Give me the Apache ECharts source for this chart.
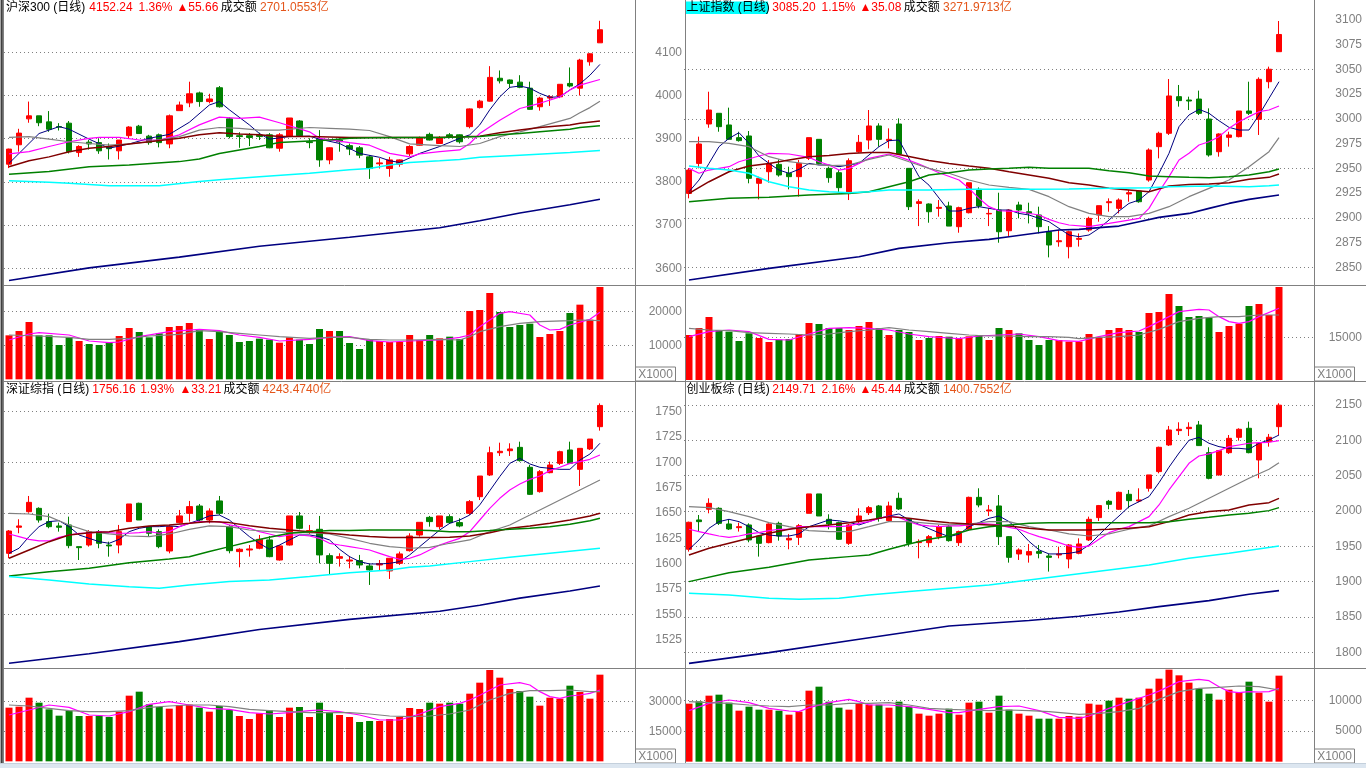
<!DOCTYPE html>
<html><head><meta charset="utf-8">
<script src="https://cdn.jsdelivr.net/npm/echarts/dist/echarts.min.js"></script>
<style>html,body{margin:0;padding:0;background:#fff;overflow:hidden}#c{width:1366px;height:768px}</style>
</head><body><div id="c"></div>
<script>
// 60 trading days + 3 empty slots on the right of every panel
const slots = Array.from({length: 63}, (_, i) => 'D' + (i + 1));

// ================= 沪深300 =================
const tlHeader = ['沪深300 (日线)', '4152.24', '1.36%', '▲55.66', '成交额', '2701.0553亿'];
// [open, close, low, high]
const tlCandles = [
[3841,3876,3832,3877],[3886,3913,3870,3923],[3946,3953,3937,3986],[3953,3937,3929,3953],[3939,3922,3916,3964],
[3928,3927,3919,3936],[3936,3870,3866,3941],[3868,3882,3858,3885],[3892,3888,3875,3897],[3891,3872,3865,3901],
[3882,3877,3852,3889],[3872,3897,3852,3897],[3907,3927,3901,3929],[3929,3912,3911,3932],[3906,3891,3886,3909],
[3909,3891,3880,3912],[3888,3953,3878,3956],[3965,3978,3965,3986],[3983,4004,3973,4032],[4006,3986,3974,4009],
[3986,3992,3982,4004],[4018,3974,3972,4022],[3946,3905,3901,3950],[3907,3905,3879,3915],[3907,3903,3883,3913],
[3908,3905,3897,3914],[3909,3879,3878,3913],[3878,3909,3870,3913],[3906,3948,3905,3948],[3941,3907,3905,3943],
[3893,3891,3878,3901],[3899,3851,3835,3920],[3851,3879,3841,3880],[3897,3893,3870,3901],[3884,3876,3862,3889],
[3879,3862,3855,3883],[3858,3831,3807,3862],[3842,3844,3831,3855],[3831,3851,3812,3858],[3841,3851,3835,3852],
[3865,3882,3860,3885],[3885,3902,3884,3905],[3910,3897,3896,3914],[3889,3903,3888,3906],[3909,3905,3901,3913],
[3909,3893,3889,3910],[3928,3969,3924,3970],[3972,3987,3970,3990],[3987,4042,3986,4068],[4040,4034,4028,4058],
[4036,4028,4017,4037],[4031,4019,4017,4047],[4017,3968,3967,4032],[3974,3994,3965,3997],[3994,3997,3976,4001],
[3997,4026,3994,4026],[4028,4022,4019,4065],[4017,4082,4000,4085],[4078,4096.6,4069,4098],[4122,4152.24,4122,4173]];
const tlVol = [12941,14216,16863,12941,12941,10098,12353,11275,10392,10098,10784,12745,15098,13922,12353,13529,15392,15686,16569,14510,
11863,13922,13039,10980,11275,11961,11667,10784,12353,11667,10392,14804,14216,14216,10686,8922,11667,11275,10980,10980,
13039,11569,13039,12059,12549,11863,20098,20392,25392,19804,15392,15980,16373,12451,13333,14216,19510,21961,17549,27157];
// moving averages as [dayIndex, value]
const tlMA5 = [[0,3843],[2,3889],[3,3912],[5,3928],[6,3922],[8,3899],[10,3878],[12,3888],[14,3901],[16,3910],[18,3938],[20,3978],[21,3986],[22,3967],[24,3932],[25,3912],[26,3899],[28,3905],[30,3906],[31,3899],[33,3889],[35,3866],[37,3857],[38,3849],[39,3845],[41,3866],[43,3882],[45,3901],[46,3909],[47,3932],[48,3967],[49,3997],[50,4019],[51,4022],[52,4017],[53,4005],[54,3996],[55,3997],[56,4013],[57,4027],[58,4047],[59,4072]];
const tlMA10 = [[0,3865],[2,3870],[4,3882],[6,3893],[8,3901],[9,3903],[11,3903],[13,3897],[15,3897],[17,3909],[19,3932],[21,3950],[23,3947],[25,3950],[27,3937],[30,3916],[31,3901],[34,3891],[36,3885],[38,3866],[40,3858],[41,3865],[43,3870],[45,3874],[46,3889],[47,3912],[49,3943],[51,3970],[53,3982],[55,3997],[56,4013],[57,4024],[59,4037]];
const tlMA20 = [[0,3903],[2,3905],[4,3899],[6,3893],[8,3889],[10,3885],[12,3888],[14,3893],[17,3905],[19,3920],[21,3926],[23,3924],[25,3920],[27,3920],[30,3926],[32,3924],[34,3922],[36,3919],[38,3905],[40,3888],[43,3884],[45,3882],[47,3889],[49,3905],[51,3916],[53,3928],[56,3947],[57,3960],[58,3972],[59,3987]];
const tlMA30 = [[0,3835],[2,3849],[4,3858],[6,3870],[8,3878],[10,3882],[12,3888],[14,3893],[17,3901],[19,3909],[21,3914],[23,3911],[25,3909],[27,3905],[30,3905],[34,3903],[39,3903],[43,3903],[47,3906],[49,3914],[51,3920],[53,3926],[56,3932],[57,3936],[59,3941]];
const tlMA60 = [[0,3818],[4,3824],[8,3835],[12,3839],[17,3847],[19,3853],[21,3866],[23,3874],[25,3882],[27,3891],[30,3895],[32,3897],[34,3901],[36,3902],[39,3903],[43,3903],[47,3905],[49,3909],[51,3912],[53,3916],[56,3922],[57,3926],[59,3930]];
const tlMA120 = [[0,3803],[4,3799],[6,3797],[10,3791],[15,3791],[19,3801],[21,3805],[25,3812],[30,3820],[34,3828],[36,3831],[38,3839],[40,3845],[43,3849],[45,3852],[47,3857],[51,3862],[56,3868],[59,3873]];
const tlMA250 = [[0,3572],[8,3601],[17,3626],[25,3651],[34,3672],[43,3694],[47,3710],[51,3728],[56,3747],[59,3760]];
const tlVMA5 = [[0,11569],[2,13333],[3,13725],[6,13039],[8,11275],[10,10784],[11,10980],[13,12549],[16,14020],[19,14706],[21,14314],[23,13039],[25,12353],[27,11275],[30,11765],[32,12353],[34,12549],[36,11373],[38,10980],[40,11275],[43,11569],[45,12353],[46,13039],[47,15490],[49,19412],[50,19902],[52,18922],[53,15980],[54,14510],[55,14706],[56,15980],[58,17647],[59,19706]];
const tlVMA10 = [[0,13039],[3,12745],[6,12353],[8,11765],[10,11765],[12,12059],[14,12745],[17,13235],[19,14314],[21,14020],[23,13529],[25,13039],[27,12549],[30,12059],[32,12353],[34,12353],[36,11765],[38,11569],[40,11569],[43,11765],[45,11569],[46,12549],[47,14020],[49,15490],[51,16471],[53,16961],[56,17255],[57,17451],[59,17255]];

// ================= 上证指数 =================
const trHeader = ['上证指数 (日线)', '3085.20', '1.15%', '▲35.08', '成交额', '3271.9713亿'];
const trCandles = [
[2924.7,2948.3,2919.7,2950],[2955,2974.6,2950,2982],[2994.8,3008.9,2991,3027.4],[3005.6,2992.1,2987,3005.6],[2993.8,2979.3,2979,3011.3],
[2981,2978,2977,2987],[2982.7,2939.9,2934.9,2987.7],[2934.9,2939.9,2918.7,2941.6],[2946.6,2955,2935.5,2958.4],[2954,2943.3,2941.6,2959],
[2945,2941.6,2928.8,2951.7],[2941.6,2955,2921.4,2958.4],[2960.1,2981,2958.4,2981],[2979.3,2955,2953.4,2979.3],[2950,2940.6,2935.5,2951.7],
[2945.6,2930.5,2925.4,2948.3],[2924.7,2957.7,2918,2960.1],[2966.8,2976.3,2965.8,2983.7],[2978.6,2992.8,2969.2,3008.9],[2992.8,2979.3,2971.9,2995.5],
[2978,2979.3,2970.2,2990.4],[2994.8,2964.5,2963.5,3000.5],[2950,2911.3,2907.9,2950],[2914.6,2916.3,2891.7,2918.7],[2914,2906.2,2895.1,2914.6],
[2909.6,2910.6,2901.2,2918],[2912,2891.7,2891.7,2916.3],[2891.1,2910.3,2885,2911.3],[2905.2,2935.5,2904.5,2935.5],[2928.8,2912,2909.6,2930.8],
[2904,2904.5,2891.7,2909.6],[2907.9,2886,2874.9,2925.4],[2887,2907.9,2881.7,2908.6],[2913,2907.9,2899.5,2916.3],[2906.2,2904.5,2894.4,2915.3],
[2902.9,2891.1,2884.3,2911.3],[2886,2872.6,2860.1,2891.7],[2875.9,2876.9,2870.9,2887.7],[2870.9,2886,2859.1,2887],[2878.3,2879.3,2871,2884.3],
[2887.7,2899.5,2886,2901.2],[2902.9,2912.3,2896.1,2912.3],[2915.3,2916.3,2906.2,2919.7],[2909.6,2918,2904.5,2919.7],[2924.1,2925.4,2916.3,2928.1],
[2927.1,2916.3,2915.3,2927.4],[2938.2,2968.5,2936.5,2970.2],[2971.9,2985.4,2960.1,2987],[2985.4,3023.1,2983.7,3040.2],[3022.4,3018.4,3012.3,3034.2],
[3019,3018,3008.9,3022.4],[3020,3005.6,3003.9,3028.5],[2999.8,2963.5,2961.8,3010.6],[2966.8,2984.7,2961.8,2985.4],[2981.3,2983.7,2971.9,2987],
[2982,3007.9,2981.3,3007.9],[3007.9,3005.6,3003.9,3037.5],[2999.5,3039.9,2983.7,3041.9],[3037.5,3050.1,3030.8,3052.7],[3067.8,3085.2,3067.8,3098.8]];
const trVol = [15820,18281,22150,17578,16992,13711,16406,14766,13359,14180,14414,16172,20039,19688,18281,18281,17578,18984,20391,18281,
15820,17578,16875,14063,14766,15469,15234,14531,15352,15820,14063,18281,17578,16406,14063,12305,14063,14063,13477,13477,
16172,15000,17578,18281,17578,16875,23555,23906,30234,26016,22148,22500,21914,16875,18984,19805,26016,26719,22852,32695];
const trMA5 = [[0,2926.4],[1,2938.2],[2,2955],[3,2971.9],[4,2980.3],[5,2986],[6,2975.3],[7,2962.5],[8,2955],[9,2948.3],[10,2945],[11,2949],[12,2955],[13,2953.4],[14,2953.4],[15,2951.7],[16,2953.4],[17,2955],[18,2963.5],[19,2971.9],[20,2978],[21,2978.6],[22,2960.1],[23,2941.6],[24,2933],[25,2920],[26,2906.9],[27,2906.9],[28,2909.6],[29,2911.3],[30,2909.6],[31,2907.9],[32,2907.9],[33,2904.5],[34,2902.9],[35,2899.5],[36,2896.1],[37,2889.4],[38,2882.7],[39,2881],[40,2882.7],[41,2889.4],[42,2897.8],[43,2906.9],[44,2914.6],[45,2918],[46,2926.4],[47,2945],[48,2965.2],[49,2992.1],[50,3003.9],[51,3009.6],[52,3005.6],[53,2998.1],[54,2991.4],[55,2988.7],[56,2988.7],[57,3003.9],[58,3020.7],[59,3037.5]];
const trMA10 = [[0,2950],[1,2945],[2,2948.3],[4,2951.7],[5,2956.7],[7,2962.5],[8,2965.2],[10,2964.5],[12,2961.1],[13,2956.7],[14,2953.4],[15,2948.3],[16,2950],[18,2960.1],[20,2964.5],[21,2961.8],[23,2954.4],[25,2945.6],[27,2938.2],[28,2929.8],[29,2919.7],[30,2911.3],[31,2907.2],[33,2906.2],[35,2902.9],[36,2898.5],[37,2895.1],[38,2892.8],[40,2891.1],[42,2894.4],[44,2897.8],[45,2899.5],[46,2909.6],[47,2926.4],[48,2941.6],[49,2958.4],[50,2965.2],[51,2973.6],[52,2976.9],[53,2982],[54,2990.4],[55,2997.1],[56,3002.2],[57,3007.2],[58,3008.9],[59,3013]];
const trMA20 = [[0,2976.9],[2,2976.9],[4,2975.3],[6,2971.9],[8,2961.8],[10,2956.7],[12,2954.4],[14,2952.7],[16,2953.4],[18,2959.1],[20,2963.5],[22,2956.7],[24,2950],[26,2945],[28,2938.2],[30,2933.2],[32,2930.8],[34,2928.8],[36,2921.4],[38,2911.3],[40,2904.5],[42,2901.2],[44,2901.2],[46,2904.5],[48,2911.3],[50,2921.4],[52,2929.8],[54,2938.2],[56,2951.7],[58,2966.8],[59,2981]];
const trMA30 = [[0,2924.7],[2,2936.5],[4,2946.6],[6,2952.4],[8,2955],[10,2958.4],[12,2961.8],[14,2963],[16,2965],[18,2966],[20,2966],[22,2962],[24,2958],[26,2955],[28,2952.4],[30,2950],[32,2946.6],[34,2943.3],[36,2939.9],[38,2935.5],[40,2933.2],[42,2929.8],[44,2928.1],[46,2926.4],[48,2932.2],[50,2933.8],[52,2934.2],[54,2935.5],[56,2938.9],[58,2940.9],[59,2944.3]];
const trMA60 = [[0,2916.3],[4,2919.7],[8,2920.7],[12,2923.1],[16,2924.7],[18,2926.4],[20,2931.5],[22,2936.5],[24,2943.3],[26,2945.6],[28,2948.3],[30,2949.3],[32,2950],[34,2951],[36,2950],[38,2950],[40,2950],[42,2947.6],[44,2945.6],[46,2942.3],[48,2941.6],[50,2940.9],[52,2940.6],[54,2941.6],[56,2943.3],[58,2946.6],[59,2949.3]];
const trMA120 = [[0,2952.4],[2,2950],[4,2948.3],[6,2945],[8,2936.5],[10,2931.5],[12,2928.1],[14,2926.4],[16,2925.4],[18,2926.4],[20,2928.1],[24,2928.1],[28,2928.8],[34,2928.8],[38,2929.1],[42,2929.8],[46,2930.5],[48,2931.5],[52,2932.2],[56,2931.5],[58,2932.5],[59,2933.2]];
const trMA250 = [[0,2837.2],[8,2849],[17,2860.8],[21,2869.2],[26,2874.9],[30,2878.3],[32,2881],[37,2887.7],[39,2888.4],[41,2890.1],[43,2891.7],[45,2896.1],[47,2900.5],[50,2904.5],[52,2909.6],[54,2914.6],[56,2918.7],[59,2923.1]];
const trVMA5 = [[0,15236],[2,16994],[4,17580],[6,16994],[8,14298],[10,14064],[12,16174],[14,18166],[16,18400],[18,18166],[20,17580],[22,16174],[24,15236],[26,14767],[27,14533],[29,15470],[31,15822],[33,16174],[35,15236],[37,13830],[39,13595],[41,15236],[43,16642],[45,17228],[46,18752],[47,20510],[49,24026],[51,24846],[52,24612],[53,22268],[54,20510],[55,19924],[56,20510],[57,22268],[59,25198]];
const trVMA10 = [[0,18166],[2,17580],[4,17346],[6,16642],[8,16408],[10,16174],[12,15822],[14,16174],[16,16994],[18,17580],[20,18400],[22,17580],[24,16994],[26,16408],[28,15822],[30,15470],[32,15470],[34,15236],[36,15236],[38,15002],[39,14533],[41,15002],[43,15236],[45,15822],[47,17814],[49,20510],[51,21682],[53,22268],[55,22268],[57,22854],[59,22854]];

// ================= 深证综指 =================
const blHeader = ['深证综指 (日线)', '1756.16', '1.93%', '▲33.21', '成交额', '4243.4740亿'];
const blCandles = [
[1610.2,1632.2,1605.3,1633.2],[1635.9,1637.2,1630,1643.8],[1651.3,1660.5,1650.3,1666.8],[1654.6,1643.1,1640.5,1655.6],[1641.5,1636.5,1634.9,1649],
[1637.2,1635.9,1631.6,1640.5],[1638.2,1617.8,1615.2,1646.4],[1616.8,1615.8,1603.6,1616.8],[1618.4,1631.6,1616.8,1633.2],[1631.6,1620.1,1615.2,1633.2],
[1618.4,1617.5,1606.9,1621.7],[1618.4,1631.6,1610.2,1638.2],[1641.5,1658.9,1641.5,1658.9],[1659.6,1643.1,1643.1,1660.2],[1636.5,1630,1627.3,1637.2],
[1631.6,1616.8,1615.2,1633.9],[1612.5,1636.5,1610.2,1638.2],[1640.5,1647.1,1639.8,1653],[1649.7,1656.3,1641.5,1661.9],[1656.9,1643.1,1640.5,1658.9],
[1643.1,1652,1639.8,1654.6],[1661.9,1649.7,1648,1666.8],[1636.5,1612.8,1610.2,1638.2],[1611.9,1614.2,1596.4,1615.2],[1613.5,1614.5,1606.9,1618.4],
[1615.2,1624,1614.2,1628.3],[1623.4,1606.9,1606.3,1627.3],[1603.6,1617.5,1603,1618.4],[1618.4,1647.1,1617.8,1647.1],[1647.1,1634.9,1633.9,1651],
[1630.6,1632.6,1629.3,1638.2],[1633.9,1608.6,1600.3,1647.1],[1607.9,1600.3,1588.8,1610.2],[1605.3,1606.9,1597.1,1610.2],[1602.6,1603.6,1595.4,1607.6],
[1603,1598.7,1595.4,1608.6],[1597.7,1593.8,1579,1600.3],[1598.7,1600,1593.1,1603.6],[1592.8,1605.3,1584.9,1605.3],[1600.3,1609.6,1598.7,1611.9],
[1612.8,1627.3,1611.9,1630],[1628.3,1640.8,1626.7,1640.8],[1645.7,1641.5,1636.5,1647.1],[1636.5,1647.1,1633.9,1647.1],[1646.4,1640.5,1639.2,1648.7],
[1640.5,1637.2,1635.9,1644.8],[1649.7,1661.2,1648,1662.8],[1666.1,1686.5,1662.8,1686.5],[1687.5,1709.5,1686.5,1715.5],[1709.5,1710.9,1706.3,1719.4],
[1711.5,1713.2,1706.3,1718.8],[1714.8,1701.7,1700.7,1720.4],[1695.1,1668.4,1667.8,1697.4],[1671.1,1690.8,1670.1,1692.4],[1689.8,1697.4,1689.2,1700.7],
[1699,1710.5,1697.4,1711.5],[1712.2,1699,1698.4,1720.4],[1693.1,1713.8,1676.7,1713.8],[1713.2,1723,1712.2,1723],[1735.2,1756.16,1731.3,1758.2]];
const blVol = [26833,27333,31833,29333,26000,22833,25333,22667,22667,22833,22167,24833,32833,34833,28500,27167,26333,28167,28333,26833,
24833,27667,25667,22667,21167,24000,25500,22167,26833,27167,22167,29333,24333,23167,22167,19667,20167,20167,21167,22167,
26667,26167,29333,28833,29333,28833,33833,39333,45667,41833,36167,35167,32333,27833,31833,31333,37833,34667,31333,43333];
const blMA5 = [[0,1610.2],[1,1615.2],[2,1626.7],[3,1636.5],[4,1641.5],[5,1642.4],[6,1636.5],[7,1628.3],[8,1625],[9,1621.7],[10,1620.1],[11,1624],[12,1631.6],[13,1634.9],[14,1636.5],[15,1636.5],[16,1637.2],[17,1636.5],[18,1639.8],[19,1643.1],[20,1647.1],[21,1648],[22,1643.1],[23,1634.9],[24,1626.7],[25,1620],[26,1614.2],[27,1618.4],[28,1623.4],[29,1628.3],[30,1628.3],[31,1626.7],[32,1623.4],[33,1614.2],[34,1606.9],[35,1602],[36,1599.7],[37,1599.7],[38,1600.3],[39,1602],[40,1608.6],[41,1616.8],[42,1625],[43,1633.2],[44,1639.8],[45,1643.1],[46,1648],[47,1658],[48,1672],[49,1686],[50,1699],[51,1704],[52,1698.4],[53,1695.1],[54,1694.1],[55,1693.1],[56,1693.1],[57,1702.3],[58,1708.2],[59,1718.8]];
const blMA10 = [[0,1629.3],[1,1626.7],[2,1624],[3,1622.4],[4,1622.4],[5,1626],[6,1628.3],[7,1630],[8,1630],[9,1631.6],[10,1630.6],[11,1630],[12,1630],[13,1630.6],[14,1631.6],[15,1630],[16,1631.6],[17,1636.5],[18,1639.8],[19,1641.5],[20,1641.5],[21,1641.5],[22,1638.2],[23,1636.5],[24,1634.9],[25,1631.6],[26,1629.3],[27,1626.7],[28,1628.3],[29,1628.3],[30,1627.3],[31,1625],[32,1620.1],[33,1618.4],[34,1616.8],[35,1615.2],[36,1613.5],[37,1610.2],[38,1606.9],[39,1604.3],[40,1605.3],[41,1608.6],[42,1613.5],[43,1618.4],[44,1621.7],[45,1625],[46,1631.6],[47,1643.1],[48,1654.6],[49,1664.5],[50,1672.7],[51,1678.6],[52,1683.2],[53,1686.5],[54,1691.8],[55,1695.1],[56,1699],[57,1700.7],[58,1703],[59,1707.2]];
const blMA20 = [[0,1649.7],[2,1649],[4,1646.4],[6,1638.2],[8,1631.6],[10,1629.3],[12,1627.3],[14,1626.7],[16,1629.3],[18,1633.9],[20,1637.2],[22,1636.5],[24,1633.2],[26,1631.6],[28,1630.6],[30,1630.6],[32,1629.3],[34,1625],[36,1620.1],[38,1616.8],[40,1615.2],[42,1616.1],[44,1620.1],[46,1623.4],[48,1631.6],[50,1638.2],[52,1648],[54,1657.9],[56,1667.8],[58,1677.6],[59,1682.6]];
const blMA30 = [[0,1605.3],[2,1613.5],[4,1621.7],[6,1628.3],[8,1630.6],[10,1631.6],[12,1634.9],[14,1637.2],[16,1638.2],[18,1639.8],[20,1641.5],[22,1640.5],[24,1637.5],[26,1634.9],[28,1633.2],[30,1631.6],[32,1630],[34,1628.3],[36,1626.7],[38,1625.7],[40,1625.7],[42,1625.7],[44,1626],[46,1627.3],[48,1630.6],[50,1634.9],[52,1637.2],[54,1639.8],[56,1643.1],[58,1647.1],[59,1649.7]];
const blMA60 = [[0,1587.9],[4,1592.1],[8,1595.4],[12,1601],[16,1604.6],[18,1606.9],[20,1611.9],[22,1616.8],[24,1621.7],[26,1626],[28,1630],[30,1631.6],[32,1632.6],[34,1632.6],[36,1633.2],[38,1633.2],[40,1633.2],[42,1632.6],[44,1631.6],[46,1631.6],[48,1632.6],[50,1633.9],[52,1634.9],[54,1636.5],[56,1638.8],[58,1642.4],[59,1644.8]];
const blMA120 = [[0,1587.2],[4,1583.9],[8,1580],[12,1577.3],[15,1575.7],[18,1579],[22,1582.3],[26,1583.9],[30,1587.2],[34,1591.1],[38,1593.8],[40,1596.4],[42,1597.7],[46,1602],[50,1606.3],[54,1610.2],[59,1615.2]];
const blMA250 = [[0,1501.7],[8,1511],[17,1523],[25,1535],[34,1545],[43,1553],[47,1559],[51,1566],[56,1573],[59,1578]];
const blVMA5 = [[0,23171],[2,25672],[4,28172],[6,27005],[8,23171],[10,22671],[12,24838],[14,28506],[16,29839],[18,28172],[20,26505],[22,26005],[24,24338],[26,23671],[28,24338],[30,25338],[31,25672],[33,24838],[35,23171],[37,20671],[39,20671],[41,23671],[43,27339],[45,29006],[46,30673],[47,33007],[49,38174],[51,39341],[52,38174],[53,34840],[54,32340],[55,31506],[56,32673],[57,33173],[58,34007],[59,35674]];
const blVMA10 = [[0,28172],[2,27672],[4,26505],[6,25338],[8,24838],[10,24838],[12,25338],[14,27005],[16,27672],[18,28172],[20,28172],[22,27339],[24,26005],[26,25338],[28,24838],[30,24338],[32,24338],[34,24338],[36,23671],[38,22671],[40,22338],[42,22671],[44,23671],[46,25672],[48,30673],[50,34007],[52,35340],[54,35340],[56,35674],[58,34840],[59,34840]];

// ================= 创业板综 =================
const brHeader = ['创业板综 (日线)', '2149.71', '2.16%', '▲45.44', '成交额', '1400.7552亿'];
const brCandles = [
[1945.8,1984,1942.5,1984.9],[1987.3,1984.9,1970.8,1994.3],[2002.4,2010.8,1996.7,2017.9],[2003.8,1982.5,1980.2,2005.2],[1981.6,1974.5,1973.1,1988.2],
[1976.4,1977.8,1970.8,1983.5],[1980.2,1959,1955.7,1982.5],[1964.6,1954.2,1935.4,1966],[1955.2,1981.6,1954.2,1982.5],[1982.5,1964.6,1958,1984.9],
[1959,1961.3,1945.8,1967.5],[1962.7,1979.2,1951.9,1981.6],[1996.7,2024.1,1996.7,2024.1],[2024.1,1992.9,1992.9,2024.1],[1988.2,1981.6,1974.1,1995.3],
[1983.5,1959.9,1959,1984.9],[1954.2,1980.2,1951.9,1981.6],[1984.9,1992.9,1982.5,2003.8],[1997.6,2004.7,1994.3,2007.1],[2007.1,1989.6,1984.9,2008.5],
[1986.3,2007.1,1984.9,2013.2],[2017.9,2002.8,2001.4,2025.9],[1988.2,1954.2,1950.5,1989.6],[1955.2,1956.6,1933,1959.9],[1955.2,1963.7,1948.6,1966],
[1963.7,1977.8,1959.9,1980.2],[1977.8,1958,1956.6,1980.2],[1955.2,1970.8,1950.5,1972.2],[1974.1,2019.3,1972.2,2020.3],[2019.3,2008.5,2005.2,2032.1],
[2000,2001.4,1992.9,2008.5],[2007.1,1963.7,1951.9,2022.6],[1963.7,1934.4,1926.9,1964.6],[1939.2,1944.8,1930.7,1947.2],[1937.7,1942.5,1926.9,1953.3],
[1942.5,1940.1,1933,1951.9],[1936.3,1934.4,1914.2,1939.2],[1937.7,1939.2,1933,1949.5],[1932.1,1951.9,1918.9,1953.3],[1940.1,1953.3,1938.7,1961.3],
[1959,1988.2,1957.5,1992],[1990.6,2007.6,1985.8,2008.5],[2013.7,2009.4,2002.4,2015.6],[2002.4,2026.4,2001.4,2027.4],[2023.6,2014.6,2003.8,2029.7],
[2014.1,2015.6,2012.3,2032.1],[2032.1,2051,2027.4,2051],[2055.7,2090.1,2053.3,2091],[2093.4,2114.6,2092,2120.3],[2113.7,2115.6,2107.5,2125.5],
[2116.5,2118.4,2106.1,2125.5],[2121.7,2092.5,2092,2127.4],[2082.5,2046.2,2044.8,2090.1],[2051,2085.4,2050,2086.3],[2082.5,2102.8,2080.7,2107.5],
[2104.2,2115.6,2099.5,2117],[2117,2082.5,2081.6,2126.4],[2072.2,2095.8,2046.2,2095.8],[2098.1,2104.3,2091,2109],[2119.3,2149.71,2107.5,2152.4]];
const brVol = [9457,9837,10761,10924,9620,8315,8967,8478,8478,8315,7663,8152,11576,12228,9783,8804,8478,9457,9293,9293,
8804,9783,8967,7826,7500,7826,8641,7663,9620,9783,7989,10761,8478,7826,7500,7011,7011,7011,7446,7337,
9457,9293,9946,10435,10272,10435,11903,13533,15001,14077,12881,11903,11087,10109,11740,11196,13044,11250,9783,14022];
const brMA5 = [[0,1945.8],[1,1959],[2,1975.5],[3,1984.9],[4,1988.2],[5,1984.9],[6,1977.8],[7,1969.3],[8,1966],[9,1964.6],[10,1964.6],[11,1967.5],[12,1977.8],[13,1982.5],[14,1987.3],[15,1986],[16,1984],[17,1980.2],[18,1984.9],[19,1989.6],[20,1992.9],[21,1995.8],[22,1987.3],[23,1981],[24,1975],[25,1969],[26,1963.7],[27,1967],[28,1977.8],[29,1983.5],[30,1989.6],[31,1992.9],[32,1985],[33,1972],[34,1957],[35,1945],[36,1939.2],[37,1939.2],[38,1940.1],[39,1942.5],[40,1951.9],[41,1966],[42,1980.2],[43,1992.9],[44,2006.1],[45,2013.2],[46,2020.3],[47,2040],[48,2062],[49,2082],[50,2100],[51,2104.2],[52,2095.8],[53,2091],[54,2088.7],[55,2088.7],[56,2087.3],[57,2095.8],[58,2100.5],[59,2107.5]];
const brMA10 = [[0,1974.1],[1,1970.8],[2,1967.5],[3,1964.6],[4,1962.7],[5,1964.6],[6,1967.5],[7,1969.3],[8,1972.2],[9,1974.1],[10,1974.1],[11,1977.8],[12,1977.8],[13,1977.8],[14,1977.8],[15,1977.8],[16,1978.8],[17,1982.5],[18,1984.9],[19,1989.6],[20,1992.9],[21,1991],[22,1984.9],[23,1980.2],[24,1978.8],[25,1977.8],[26,1978.8],[27,1978.8],[28,1980.2],[29,1982.5],[30,1981.6],[31,1980.2],[32,1976.9],[33,1974.1],[34,1968.4],[35,1963.7],[36,1959.9],[37,1955.2],[38,1950.5],[39,1948.6],[40,1950.5],[41,1959.9],[42,1969.3],[43,1974.1],[44,1977.8],[45,1984.9],[46,1992],[47,2008.5],[48,2029.7],[49,2048.6],[50,2067.5],[51,2077.8],[52,2080.7],[53,2085.4],[54,2091],[55,2093.4],[56,2095.8],[57,2096.7],[58,2097.2],[59,2099.5]];
const brMA20 = [[0,2006.1],[2,2004.7],[4,1999.1],[6,1992],[8,1983.5],[10,1977.8],[12,1972.2],[14,1970.8],[16,1970.8],[18,1977.8],[20,1984.9],[22,1984.9],[24,1982.5],[26,1980.2],[28,1981.6],[30,1984.9],[32,1984.9],[34,1977.8],[36,1973.1],[38,1967.5],[40,1964.6],[42,1967.5],[44,1974.1],[46,1978.8],[48,1992],[50,2003.8],[52,2017.9],[54,2032.1],[56,2046.2],[58,2059],[59,2068.4]];
const brMA30 = [[0,1937.7],[2,1947.2],[4,1954.2],[6,1961.3],[8,1968.4],[10,1974.1],[12,1977.8],[14,1980.2],[16,1983.5],[18,1987.3],[20,1992],[22,1989.6],[24,1986.3],[26,1983.5],[28,1981.6],[30,1980.2],[32,1978.8],[34,1975.5],[36,1973.1],[38,1973.1],[40,1973.1],[42,1974.1],[44,1975.5],[46,1977.8],[48,1984.9],[50,1994.3],[52,1999.1],[54,2001.4],[56,2008.5],[58,2011.8],[59,2017.9]];
const brMA60 = [[0,1900],[4,1912.7],[8,1920.3],[12,1930.7],[14,1933],[16,1935.4],[18,1937.7],[20,1945.8],[22,1953.3],[24,1959.9],[26,1964.6],[28,1973.1],[30,1977.8],[32,1980.2],[34,1982.5],[36,1983.5],[38,1983.5],[40,1983.5],[42,1983.5],[44,1983.5],[46,1983.5],[48,1984.9],[50,1988.2],[52,1991],[54,1994.3],[56,1996.7],[58,2000.5],[59,2004.7]];
const brMA120 = [[0,1883.5],[4,1881.1],[8,1876.4],[11,1875],[15,1876.4],[18,1881.1],[22,1885.9],[26,1890.6],[30,1895.3],[34,1902.4],[38,1909.4],[42,1916.5],[46,1923.6],[50,1933],[54,1940.1],[59,1950.5]];
const brMA250 = [[0,1784.4],[8,1799.5],[17,1818.4],[26,1837.3],[34,1845],[39,1851],[43,1857],[47,1864.6],[52,1873.1],[56,1882.1],[59,1887.3]];
const brVMA5 = [[0,8316],[2,9511],[4,10055],[6,9620],[8,8696],[10,8261],[11,8153],[12,8805],[14,9620],[16,10163],[17,9783],[18,9240],[20,9240],[22,8968],[24,8533],[26,7989],[27,7989],[29,8533],[31,8968],[33,9076],[35,8316],[37,7229],[39,7066],[40,7446],[42,8696],[44,9783],[46,10870],[47,11500],[49,13044],[51,13424],[52,13207],[53,12229],[54,11414],[55,11250],[56,11414],[57,11359],[58,11414],[59,11957]];
const brVMA10 = [[0,9783],[2,9620],[4,9511],[6,9240],[8,9076],[10,8968],[12,9240],[14,9240],[16,9511],[18,9511],[20,9620],[22,9240],[24,8696],[26,8533],[28,8424],[30,8316],[32,8424],[34,8316],[36,8153],[38,7881],[39,7718],[41,7881],[43,8153],[45,8696],[47,10163],[49,11414],[51,11957],[53,12120],[55,12337],[57,12229],[59,11685]];

// ================= styling / layout =================
const RED = '#FF0000', GREEN = '#008000', GRAY = '#808080', NONE = 'rgba(0,0,0,0)';
const AMOUNT = '#E4561B';
const FONT = '12px "Liberation Sans", "Noto Sans CJK SC", sans-serif';
const MA_STYLE = [['#000080',1],['#FF00FF',1.2],['#808080',1.2],['#800000',1.5],['#008000',1.5],['#00FFFF',1.5],['#000080',1.6]];
const VMA_STYLE = [['#FF00FF',1.2],['#808080',1.2]];

const panels = [
 { candles: tlCandles, vol: tlVol, mas: [tlMA5,tlMA10,tlMA20,tlMA30,tlMA60,tlMA120,tlMA250], vmas: [tlVMA5,tlVMA10], header: tlHeader,
   left: 4, width: 631, pTop: 1, pH: 284, pMin: 3561.4, pMax: 4218.8,
   dTop: 52.33, dH: 216, dMin: 3600, dMax: 4100, dInt: 100, dColors: GRAY,
   vTop: 285.5, vH: 93.83, vMax: 27597, vdTop: 311.33, vdH: 68, vdMax: 20000, vdInt: 10000, vdColors: [NONE, GRAY, GRAY],
   margin: 47, hy: 7.5, hx: [6, 89.3, 138.5, 176.4, 220.8, 260] },
 { candles: trCandles, vol: trVol, mas: [trMA5,trMA10,trMA20,trMA30,trMA60,trMA120,trMA250], vmas: [trVMA5,trVMA10], header: trHeader,
   left: 684, width: 630, pTop: 1, pH: 284, pMin: 2832.2, pMax: 3119.0,
   dTop: 19.83, dH: 247.5, dMin: 2850, dMax: 3100, dInt: 25, dColors: [GRAY,NONE,GRAY,NONE,GRAY,NONE,GRAY,NONE,GRAY,NONE,NONE],
   vTop: 285.5, vH: 94.5, vMax: 33220, vdTop: 337.33, vdH: 42.67, vdMax: 15000, vdInt: 15000, vdColors: [NONE, GRAY],
   margin: 48, hy: 7.5, hx: [686.5, 772.3, 821.5, 859.4, 903.8, 943], highlight: true },
 { candles: blCandles, vol: blVol, mas: [blMA5,blMA10,blMA20,blMA30,blMA60,blMA120,blMA250], vmas: [blVMA5,blVMA10], header: blHeader,
   left: 4, width: 631, pTop: 382, pH: 286, pMin: 1497.0, pMax: 1779.3,
   dTop: 411.67, dH: 228, dMin: 1525, dMax: 1750, dInt: 25, dColors: [NONE,GRAY,NONE,GRAY,NONE,GRAY,NONE,GRAY,NONE,GRAY],
   vTop: 668.5, vH: 92.83, vMax: 46417, vdTop: 701.33, vdH: 60, vdMax: 30000, vdInt: 15000, vdColors: [NONE, GRAY, GRAY],
   margin: 47, hy: 390, hx: [6, 92.3, 140.2, 179.4, 223.4, 262.6] },
 { candles: brCandles, vol: brVol, mas: [brMA5,brMA10,brMA20,brMA30,brMA60,brMA120,brMA250], vmas: [brVMA5,brVMA10], header: brHeader,
   left: 684, width: 630, pTop: 382, pH: 286, pMin: 1777.8, pMax: 2182.5,
   dTop: 405, dH: 247.33, dMin: 1800, dMax: 2150, dInt: 50, dColors: GRAY,
   vTop: 668.5, vH: 93.17, vMax: 15190, vdTop: 700.33, vdH: 61.33, vdMax: 10000, vdInt: 5000, vdColors: [NONE, GRAY, GRAY],
   margin: 48, hy: 390, hx: [686.5, 772.3, 821.5, 859.4, 903.8, 943] }
];

const grids = [], xAxes = [], yAxes = [], series = [], graphics = [];
function addGrid(left, top, width, height) { grids.push({left, top, width, height, containLabel: false}); return grids.length - 1; }
function addCatX(gi) { xAxes.push({type: 'category', gridIndex: gi, data: slots, show: false, boundaryGap: true}); return xAxes.length - 1; }
function addValX(gi) { xAxes.push({type: 'value', gridIndex: gi, show: false, min: 0, max: 1}); return xAxes.length - 1; }
function addHiddenY(gi, min, max) { yAxes.push({type: 'value', gridIndex: gi, show: false, min, max, splitLine: {show: false}}); return yAxes.length - 1; }
function addDecoY(gi, min, max, interval, colors, margin, hideMin) {
  yAxes.push({type: 'value', gridIndex: gi, position: 'right', min, max, interval,
    axisLine: {show: false}, axisTick: {show: false},
    splitLine: {show: true, lineStyle: {color: colors, type: [1, 3], width: 1}},
    axisLabel: {show: true, align: 'right', margin, color: GRAY, fontFamily: 'Liberation Sans', fontSize: 12,
      formatter: v => (hideMin && v === min) ? '' : String(v)}});
}

panels.forEach(P => {
  const gp = addGrid(P.left, P.pTop, P.width, P.pH);
  const xp = addCatX(gp), yp = addHiddenY(gp, P.pMin, P.pMax);
  const gd = addGrid(P.left, P.dTop, P.width, P.dH);
  addValX(gd); addDecoY(gd, P.dMin, P.dMax, P.dInt, P.dColors, P.margin, false);
  const gv = addGrid(P.left, P.vTop, P.width, P.vH);
  const xv = addCatX(gv), yv = addHiddenY(gv, 0, P.vMax);
  const gvd = addGrid(P.left, P.vdTop, P.width, P.vdH);
  addValX(gvd); addDecoY(gvd, 0, P.vdMax, P.vdInt, P.vdColors, P.margin, true);

  series.push({type: 'candlestick', xAxisIndex: xp, yAxisIndex: yp, data: P.candles, barWidth: 6, silent: true, z: 2,
    itemStyle: {color: RED, color0: GREEN, borderColor: RED, borderColor0: GREEN, borderWidth: 1}});
  P.mas.forEach((m, i) => series.push({type: 'line', xAxisIndex: xp, yAxisIndex: yp, data: m, symbol: 'none', showSymbol: false,
    silent: true, z: 3, lineStyle: {color: MA_STYLE[i][0], width: MA_STYLE[i][1]}}));
  series.push({type: 'bar', xAxisIndex: xv, yAxisIndex: yv, data: P.vol, barWidth: 7, silent: true, z: 2,
    itemStyle: {color: p => (P.candles[p.dataIndex][1] >= P.candles[p.dataIndex][0] ? RED : GREEN)}});
  P.vmas.forEach((m, i) => series.push({type: 'line', xAxisIndex: xv, yAxisIndex: yv, data: m, symbol: 'none', showSymbol: false,
    silent: true, z: 3, lineStyle: {color: VMA_STYLE[i][0], width: VMA_STYLE[i][1]}}));

  // header
  if (P.highlight) graphics.push({type: 'rect', silent: true, z: 100, shape: {x: P.hx[0] - 1, y: P.hy - 6, width: 82.5, height: 12.5}, style: {fill: '#00FFFF'}});
  const hc = ['#000000', RED, RED, RED, '#000000', AMOUNT];
  P.header.forEach((t, i) => graphics.push({type: 'text', silent: true, z: 101, x: P.hx[i], y: P.hy,
    style: {text: t, fill: hc[i], font: FONT, align: 'left', verticalAlign: 'middle', textAlign: 'left', textVerticalAlign: 'middle'}}));
});

function gLine(x1, y1, x2, y2, color) { graphics.push({type: 'line', silent: true, z: 100, shape: {x1, y1, x2, y2}, style: {stroke: color || GRAY, lineWidth: 1}}); }
function gRect(x, y, w, h, fill, stroke) { graphics.push({type: 'rect', silent: true, z: 100, shape: {x, y, width: w, height: h}, style: {fill: fill, stroke: stroke || null, lineWidth: 1}}); }
function gBox(x, y) {
  gRect(x + 0.5, y + 0.5, 40, 14, '#FFFFFF', GRAY);
  graphics.push({type: 'text', silent: true, z: 101, x: x + 20.5, y: y + 8,
    style: {text: 'X1000', fill: GRAY, font: '12px "Liberation Sans", sans-serif', align: 'center', verticalAlign: 'middle', textAlign: 'center', textVerticalAlign: 'middle'}});
}
// panel frames
gLine(4, 285.5, 1366, 285.5); gLine(0, 381.5, 1366, 381.5); gLine(4, 668.5, 1366, 668.5);
gLine(635.5, 0, 635.5, 763); gLine(685.5, 0, 685.5, 763); gLine(1314.5, 0, 1314.5, 763);
gBox(635, 366.5); gBox(1314, 366.5); gBox(635, 748.5); gBox(1314, 748.5);
// window edges
gRect(0, 0, 4, 763, '#A8A8A8'); gRect(1, 0, 1.7, 763, '#404040'); gRect(2.7, 0, 1.3, 763, '#808080');
gRect(0, 763, 1366, 5, '#DCE6F0'); gLine(0, 763.5, 1366, 763.5, '#C4D0DC');

const chart = echarts.init(document.getElementById('c'));
chart.setOption({animation: false, backgroundColor: '#FFFFFF', grid: grids, xAxis: xAxes, yAxis: yAxes, series, graphic: graphics});
</script>
</body></html>
